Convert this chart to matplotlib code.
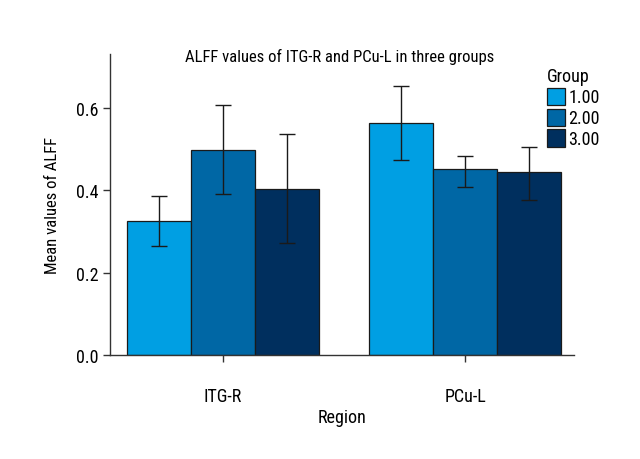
import numpy as np
import matplotlib
matplotlib.use("Agg")
import matplotlib.pyplot as plt
from matplotlib.patches import Patch

plt.rcParams['font.family'] = ['Liberation Sans Narrow', 'Roboto Condensed', 'Open Sans Condensed',
                               'DejaVu Sans Condensed', 'Liberation Sans', 'DejaVu Sans']

regions = ["ITG-R", "PCu-L"]
groups = ["1.00", "2.00", "3.00"]
# moyennes et bornes des barres d'erreur
means = [[0.325, 0.563],
         [0.497, 0.452],
         [0.402, 0.443]]
err_low = [[0.265, 0.474],
           [0.390, 0.407],
           [0.273, 0.377]]
err_high = [[0.385, 0.654],
            [0.606, 0.483],
            [0.536, 0.504]]
couleurs = ["#009FE3", "#0067A5", "#002F5E"]

fig = plt.figure(figsize=(6.4, 4.6), dpi=100)
ax = fig.add_axes([0.172, 0.226, 0.725, 0.654])

x = np.arange(len(regions))
w = 0.264
for i in range(len(groups)):
    m = np.array(means[i])
    lo = m - np.array(err_low[i])
    hi = np.array(err_high[i]) - m
    pos = x + (i - 1) * w
    ax.bar(pos, m, w, color=couleurs[i], edgecolor="#1a1a1a", linewidth=0.9, zorder=2)
    ax.errorbar(pos, m, yerr=[lo, hi], fmt="none", ecolor="#1a1a1a",
                elinewidth=1.0, capsize=5.8, capthick=1.0, zorder=3)

ax.set_xlim(-0.467, 1.45)
ax.set_ylim(0, 0.73)
ax.set_yticks([0.0, 0.2, 0.4, 0.6])
ax.set_yticklabels(["0.0", "0.2", "0.4", "0.6"])
ax.set_xticks(x)
ax.set_xticklabels(regions)
ax.tick_params(labelsize=13, length=5, width=1, color="#333333")
ax.tick_params(axis="x", pad=18)
for s in ["top", "right"]:
    ax.spines[s].set_visible(False)
for s in ["left", "bottom"]:
    ax.spines[s].set_color("#333333")
    ax.spines[s].set_linewidth(1.0)

ax.set_xlabel("Region", fontsize=13, labelpad=2)
ax.set_ylabel("Mean values of ALFF", fontsize=12, labelpad=11)
fig.text(0.531, 0.865, "ALFF values of ITG-R and PCu-L in three groups",
         ha="center", va="baseline", fontsize=12)

handles = [Patch(facecolor=couleurs[i], edgecolor="#1a1a1a", linewidth=0.9) for i in range(len(groups))]
leg = fig.legend(handles, groups, title="Group", loc="upper left",
                 bbox_to_anchor=(0.84, 0.871), frameon=False, fontsize=13,
                 title_fontsize=13, handlelength=1.0, handleheight=1.1,
                 handletextpad=0.2, labelspacing=0.12, borderpad=0.0)
leg._legend_box.align = "left"

fig.savefig("out.png", dpi=100)
